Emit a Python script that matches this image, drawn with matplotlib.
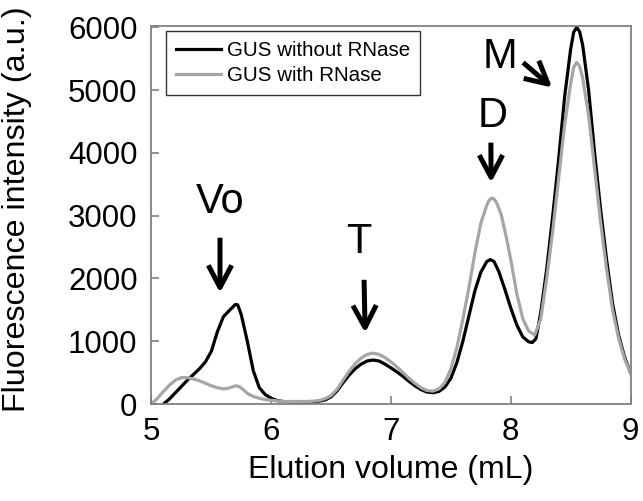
#!/usr/bin/env python3
"""Size-exclusion elution profile of GUS with / without RNase."""

import matplotlib
matplotlib.use("Agg")
import matplotlib.pyplot as plt

plt.rcParams["font.family"] = ["Liberation Sans", "DejaVu Sans"]

# elution volume (mL) and fluorescence (a.u.)
vol_without = [
    5.10, 5.15, 5.20, 5.25, 5.30, 5.35, 5.40, 5.45, 5.50, 5.55, 5.60, 5.65,
    5.70, 5.72, 5.75, 5.80, 5.85, 5.90, 5.95, 6.00, 6.05, 6.10, 6.20, 6.30,
    6.35, 6.40, 6.45, 6.50, 6.55, 6.60, 6.65, 6.70, 6.75, 6.80, 6.85, 6.90,
    6.95, 7.00, 7.05, 7.10, 7.15, 7.20, 7.25, 7.30, 7.35, 7.40, 7.45, 7.50,
    7.55, 7.60, 7.65, 7.70, 7.75, 7.80, 7.83, 7.86, 7.90, 7.95, 8.00, 8.05,
    8.10, 8.15, 8.18, 8.21, 8.25, 8.30, 8.35, 8.40, 8.45, 8.50, 8.525, 8.55,
    8.575, 8.60, 8.65, 8.70, 8.75, 8.80, 8.85, 8.90, 8.95, 9.00,
]
fl_without = [
    0, 80, 180, 280, 380, 470, 560, 670, 840, 1150, 1390, 1490,
    1585, 1580, 1420, 1000, 530, 260, 150, 90, 55, 40, 30, 30,
    35, 45, 65, 115, 210, 340, 460, 560, 635, 685, 700, 685,
    635, 575, 510, 440, 360, 290, 230, 190, 180, 200, 270, 410,
    660, 1000, 1400, 1800, 2100, 2270, 2300, 2270, 2110, 1830, 1530, 1260,
    1070, 990, 980, 1040, 1450, 2150, 2990, 3900, 4900, 5650, 5920, 6000,
    5930, 5720, 5000, 4000, 3100, 2300, 1600, 1100, 750, 500,
]

vol_with = [
    5.00, 5.05, 5.10, 5.15, 5.20, 5.25, 5.30, 5.35, 5.40, 5.45, 5.50, 5.55,
    5.60, 5.65, 5.70, 5.73, 5.76, 5.80, 5.85, 5.90, 5.95, 6.00, 6.05, 6.10,
    6.20, 6.30, 6.35, 6.40, 6.45, 6.50, 6.55, 6.60, 6.65, 6.70, 6.75, 6.80,
    6.85, 6.90, 6.95, 7.00, 7.05, 7.10, 7.15, 7.20, 7.25, 7.30, 7.35, 7.40,
    7.45, 7.50, 7.55, 7.60, 7.65, 7.70, 7.75, 7.80, 7.82, 7.84, 7.86, 7.88,
    7.92, 7.96, 8.00, 8.05, 8.10, 8.15, 8.20, 8.25, 8.30, 8.35, 8.40, 8.45,
    8.50, 8.525, 8.55, 8.575, 8.60, 8.65, 8.70, 8.75, 8.80, 8.85, 8.90, 8.95,
    9.00,
]
fl_with = [
    0, 90, 200, 300, 380, 420, 420, 400, 370, 330, 290, 260,
    240, 255, 290, 280, 240, 170, 120, 90, 70, 60, 50, 40,
    40, 40, 45, 55, 85, 135, 235, 380, 520, 640, 730, 790,
    810, 790, 740, 670, 590, 500, 410, 330, 260, 215, 205, 240,
    340, 560, 900, 1350, 1850, 2400, 2880, 3170, 3245, 3280, 3265, 3215,
    3020, 2680, 2300, 1760, 1360, 1160, 1100, 1350, 2000, 2750, 3600, 4450,
    5100, 5360, 5440, 5380, 5200, 4600, 3750, 2900, 2150, 1500, 1050, 720,
    500,
]

# peak annotations: label, label position, arrow tail, arrow tip (data coords)
peak_labels = ["Vo", "T", "D", "M"]
label_pos = [(5.572, 3046), (6.733, 2408), (7.845, 4418), (7.91, 5359)]
arrow_tail = [(5.572, 2648), (6.775, 1978), (7.834, 4163), (8.103, 5439)]
arrow_tip = [(5.572, 1770), (6.784, 1132), (7.836, 3525), (8.346, 5040)]

GRAY = "#a6a6a6"
SPINE = "#808080"

fig = plt.figure(figsize=(6.43, 5.01), dpi=100)
ax = fig.add_axes([0.2356, 0.1936, 0.745, 0.7544])

ax.plot(vol_without, fl_without, color="black", lw=2.3, label="GUS without RNase",
        solid_joinstyle="round")
ax.plot(vol_with, fl_with, color=GRAY, lw=2.3, label="GUS with RNase",
        solid_joinstyle="round")

for lab, tpos, tail, tip in zip(peak_labels, label_pos, arrow_tail, arrow_tip):
    ax.text(tpos[0], tpos[1], lab, fontsize=30, ha="center", va="baseline")
    ax.annotate("", xy=tip, xytext=tail,
                arrowprops=dict(arrowstyle="->,head_length=0.8,head_width=0.42",
                                mutation_scale=20, lw=3.6, color="black",
                                shrinkA=0, shrinkB=0, capstyle="butt"))

ax.set_xlim(5, 9)
ax.set_ylim(0, 6020)
ax.set_xticks([5, 6, 7, 8, 9])
ax.set_yticks([0, 1000, 2000, 3000, 4000, 5000, 6000])
ax.tick_params(direction="in", length=6, width=1.2, color=SPINE, labelsize=22.5)
ax.tick_params(axis="y", pad=10)
ax.tick_params(axis="x", pad=9)
for s in ax.spines.values():
    s.set_color(SPINE)
    s.set_linewidth(1.3)

ax.set_xlabel("Elution volume (mL)", fontsize=23)
ax.set_ylabel("Fluorescence intensity (a.u.)", fontsize=23.2)
ax.xaxis.set_label_coords(0.5, -0.135)
ax.yaxis.set_label_coords(-0.25, 0.515)

leg = ax.legend(loc="upper left", bbox_to_anchor=(0.03, 0.987), fontsize=14.8,
                frameon=True, fancybox=False, handlelength=2.2, handletextpad=0.25,
                borderpad=0.5, labelspacing=0.27, borderaxespad=0)
leg.get_frame().set_edgecolor("black")
leg.get_frame().set_linewidth(1.0)

fig.savefig("out.png", dpi=100)
